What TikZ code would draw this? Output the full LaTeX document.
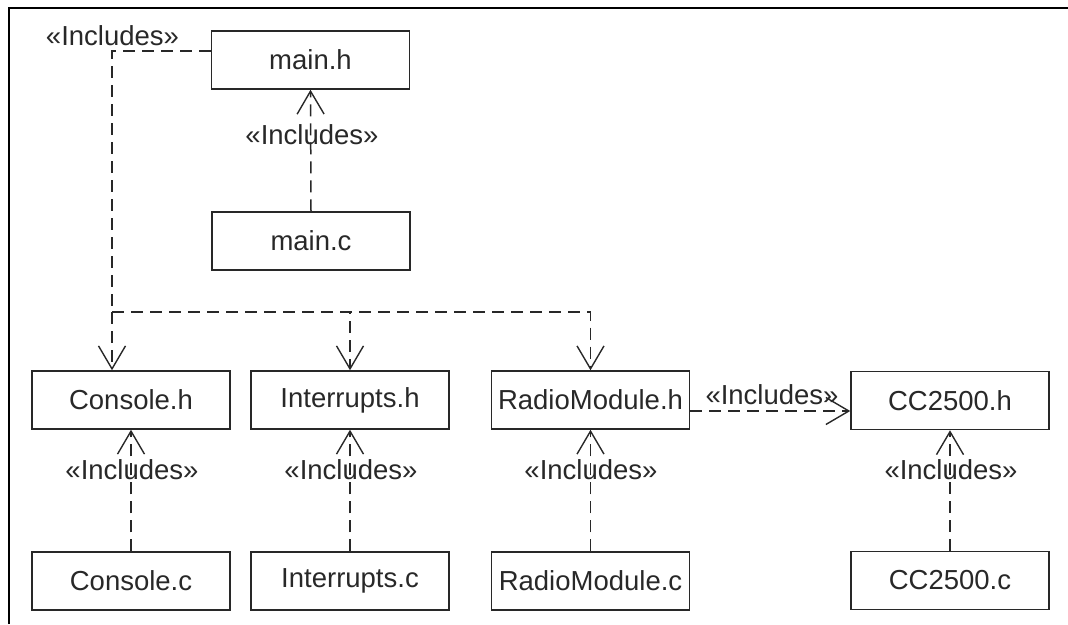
\documentclass[tikz,border=0pt]{standalone}
\usepackage{fontspec}
\setmainfont{Liberation Sans}
\usetikzlibrary{arrows.meta}
\definecolor{ink}{RGB}{40,40,40}
\begin{document}
\begin{tikzpicture}[x=1pt,y=-1pt,
  box/.style={draw=ink,line width=1.5pt,minimum width=198pt,minimum height=58pt,inner sep=0pt,text=ink,font=\fontsize{27.5}{32}\selectfont},
  lbl/.style={anchor=base,inner sep=0pt,text=ink,font=\fontsize{27.5}{32}\selectfont},
  dep/.style={draw=ink,line width=1.5pt,dash pattern=on 12pt off 7pt},
  inc/.style={dep,-{Straight Barb[length=23pt,width=27pt,line width=1.4pt]}}]
\useasboundingbox (0,0) rectangle (1068,624);
\draw[line width=2.5pt] (9,624) -- (9,8) -- (1068,8);
% boxes
\node[box] (mainh) at (310.5,60) {main.h};
\node[box] (mainc) at (311,241) {main.c};
\node[box] (conh) at (131,400) {Console.h};
\node[box] (conc) at (131,581) {Console.c};
\node[box] (inth) at (350,400) {Interrupts.h};
\node[box] (intc) at (350,581) {Interrupts.c};
\node[box] (radh) at (590.5,400) {RadioModule.h};
\node[box] (radc) at (590.5,581) {RadioModule.c};
\node[box] (cch) at (950,400.5) {CC2500.h};
\node[box] (ccc) at (950,580.5) {CC2500.c};
% coordinates
\coordinate (c1) at (112,51);
\coordinate (j) at (112,312);
% connectors
\draw[dep] ([yshift=9pt]mainh.west) -- (c1) -- (j);
\draw[inc] (j) -- (j |- conh.north);
\draw[inc] (j) -| (inth.north);
\draw[inc] (j) -| (radh.north);
\draw[inc] (mainc.north) -- (mainh.south);
\draw[inc] (conc.north) -- (conh.south);
\draw[inc] (intc.north) -- (inth.south);
\draw[inc] (radc.north) -- (radh.south);
\draw[inc] (ccc.north) -- (cch.south);
\draw[inc] ([yshift=-11pt]radh.east) -- ([yshift=-11pt]radh.east -| cch.west);
% labels
\node[lbl] (l0) at (112.5,45) {«Includes»};
\node[lbl] (l1) at (312,144) {«Includes»};
\node[lbl] (l2) at (132,479) {«Includes»};
\node[lbl] (l3) at (351,479) {«Includes»};
\node[lbl] (l4) at (591,479) {«Includes»};
\node[lbl] (l5) at (951,479) {«Includes»};
\node[lbl] (l6) at (772,404) {«Includes»};
\end{tikzpicture}
\end{document}
